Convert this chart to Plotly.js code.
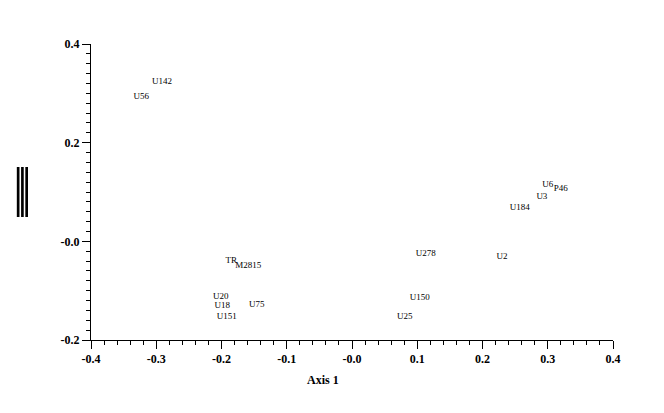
<!DOCTYPE html>
<html>
<head>
<meta charset="utf-8">
<script src="https://cdn.plot.ly/plotly-3.0.1.min.js"></script>
<style>
html,body{margin:0;padding:0;background:#fff;}
#chart{width:664px;height:413px;}
#chart g.annotation[data-index="0"] text.annotation-text{letter-spacing:-6.5px;}
</style>
</head>
<body>
<div id="chart"></div>
<script>
// Sample labels and their ordination scores (Axis 1, Axis 2)
var labels = ["U142", "U56", "U6", "P46", "U3", "U184", "TR", "M2815", "U20", "U18", "U75", "U151", "U278", "U2", "U150", "U25"];
var axis1 = [-0.291, -0.323, 0.300, 0.320, 0.291, 0.257, -0.185, -0.159, -0.201, -0.199, -0.146, -0.192, 0.113, 0.230, 0.104, 0.081];
var axis2 = [0.323, 0.293, 0.114, 0.106, 0.090, 0.068, -0.040, -0.050, -0.113, -0.131, -0.129, -0.153, -0.026, -0.032, -0.115, -0.153];

var xTickVals = [-0.4, -0.3, -0.2, -0.1, 0, 0.1, 0.2, 0.3, 0.4];
var xTickText = ["-0.4", "-0.3", "-0.2", "-0.1", "-0.0", "0.1", "0.2", "0.3", "0.4"];
var yTickVals = [-0.2, 0, 0.2, 0.4];
var yTickText = ["-0.2", "-0.0", "0.2", "0.4"];

var xTitle = "Axis 1";
var yTitle = "|||";

var serif = "Liberation Serif, Times New Roman, serif";

var trace = {
  x: axis1,
  y: axis2,
  text: labels,
  mode: "text",
  type: "scatter",
  textposition: "middle center",
  textfont: {family: serif, size: 9, color: "#000"},
  hoverinfo: "none"
};

var axisCommon = {
  showgrid: false,
  zeroline: false,
  showline: true,
  linecolor: "#000",
  linewidth: 1,
  ticks: "outside",
  ticklen: 8,
  tickwidth: 1,
  tickcolor: "#000",
  tickmode: "array",
  tickfont: {family: serif, size: 12, color: "#000", weight: "bold"},
  fixedrange: true
};

var layout = {
  width: 664,
  height: 413,
  margin: {l: 91, r: 51, t: 44, b: 73},
  paper_bgcolor: "#fff",
  plot_bgcolor: "#fff",
  showlegend: false,
  xaxis: Object.assign({}, axisCommon, {
    range: [-0.4, 0.4],
    tickvals: xTickVals,
    ticktext: xTickText,
    minor: {tickmode: "linear", tick0: 0, dtick: 0.02, ticks: "outside", ticklen: 4, tickcolor: "#000", tickwidth: 1, showgrid: false}
  }),
  yaxis: Object.assign({}, axisCommon, {
    range: [-0.2, 0.4],
    tickvals: yTickVals,
    ticktext: yTickText,
    minor: {tickmode: "linear", tick0: 0, dtick: 0.02, ticks: "outside", ticklen: 4, tickcolor: "#000", tickwidth: 1, showgrid: false}
  }),
  annotations: [{
    text: yTitle,
    xref: "paper", yref: "paper",
    x: -0.137, y: 0.518,
    xanchor: "center", yanchor: "middle",
    showarrow: false,
    font: {family: serif, size: 54, color: "#000"}
  }, {
    text: xTitle,
    xref: "paper", yref: "paper",
    x: (323 - 91) / 522, y: -(380 - 340) / 296,
    xanchor: "center", yanchor: "middle",
    showarrow: false,
    font: {family: serif, size: 12, color: "#000", weight: "bold"}
  }]
};

Plotly.newPlot("chart", [trace], layout, {staticPlot: true, displayModeBar: false});
</script>
</body>
</html>
